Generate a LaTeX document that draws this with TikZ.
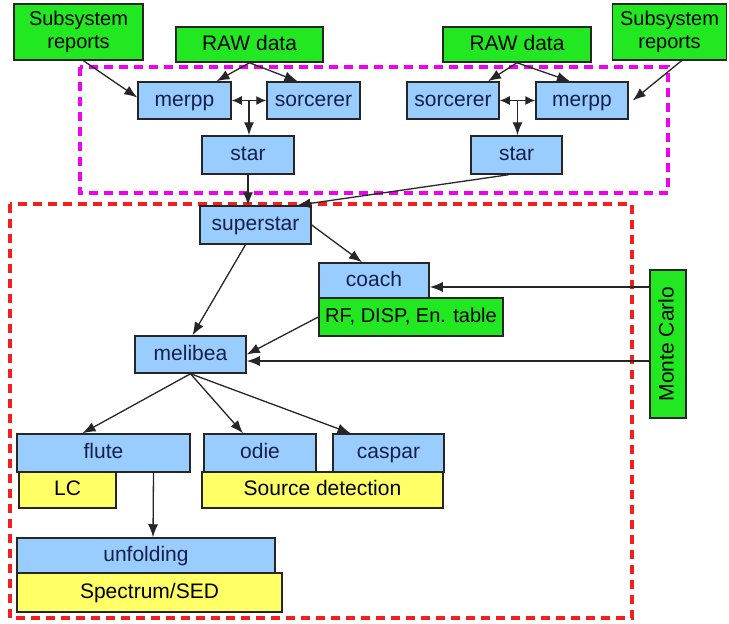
\documentclass[tikz,border=0pt]{standalone}
\usepackage{fontspec}
\setmainfont{Liberation Sans}
\usepackage{tikz}
\usetikzlibrary{
  arrows.meta,
  calc,
  positioning,
}
\definecolor{procblue}{RGB}{153, 204, 255}
\definecolor{inputgreen}{RGB}{34, 232, 34}
\definecolor{resultyellow}{RGB}{255, 255, 102}
\definecolor{navytext}{RGB}{22, 32, 72}
\definecolor{chainmagenta}{RGB}{240, 0, 240}
\definecolor{analysisred}{RGB}{245, 30, 30}
\tikzstyle{box} = [
  draw=black!85,
  line width=1.5pt,
  rectangle,
  inner sep=0pt,
  text height=15pt,
  text depth=4pt,
  font=\fontsize{21}{25}\selectfont,
]
\tikzstyle{procbox} = [box, fill=procblue, text=navytext]
\tikzstyle{inbox} = [box, fill=inputgreen, text=black]
\tikzstyle{resbox} = [box, fill=resultyellow, text=black]
\tikzstyle{arrow} = [
  -{Latex[length=13pt,width=10pt]},
  line width=1.3pt,
  black!85,
]
\tikzstyle{dblarrow} = [
  {Latex[length=10pt,width=9pt]}-{Latex[length=10pt,width=9pt]},
  line width=1.3pt,
  black!85,
]
\tikzstyle{region} = [dash pattern=on 9pt off 6pt, line width=3.5pt]

\begin{document}
\begin{tikzpicture}[x=1pt, y=-1pt]

        \useasboundingbox (0,0) rectangle (729,624);

        % Regions
        \draw [region, chainmagenta] (80,67) rectangle (668,193);
        \draw [region, analysisred] (10,204) rectangle (632,618);

        % Inputs
        \node [inbox, minimum width=129, minimum height=56, align=center,
               text height={}, text depth={}, font=\fontsize{20}{23}\selectfont]
              (subL) at (78.5,32) {Subsystem\\reports};
        \node [inbox, minimum width=147, minimum height=35] (rawL) at (249.5,44.5) {RAW data};
        \node [inbox, minimum width=148, minimum height=35] (rawR) at (517,44.5) {RAW data};
        \node [inbox, minimum width=114, minimum height=56, align=center,
               text height={}, text depth={}, font=\fontsize{20}{23}\selectfont]
              (subR) at (669.5,32) {Subsystem\\reports};

        % Telescope chains
        \node [procbox, minimum width=93, minimum height=37] (merpL) at (184.5,100.5) {merpp};
        \node [procbox, minimum width=93, minimum height=37] (sorL) at (313.5,100.5) {sorcerer};
        \node [procbox, minimum width=92, minimum height=38] (starL) at (248,155) {star};

        \node [procbox, minimum width=92, minimum height=37] (sorR) at (453,100.5) {sorcerer};
        \node [procbox, minimum width=92, minimum height=37] (merpR) at (582,100.5) {merpp};
        \node [procbox, minimum width=91, minimum height=38] (starR) at (516.5,155) {star};

        % Stereo analysis
        \node [procbox, minimum width=111, minimum height=38] (superstar) at (255.5,225) {superstar};
        \node [procbox, minimum width=110, minimum height=35] (coach) at (374,280.5) {coach};
        \node [inbox, minimum width=184, minimum height=38, font=\fontsize{20}{24}\selectfont]
              (rf) at (411,317) {RF, DISP, En. table};
        \node [procbox, minimum width=111, minimum height=37] (melibea) at (190.5,354.5) {melibea};
        \node [inbox, rotate=90, minimum width=148, minimum height=36] (mc) at (668,344) {Monte Carlo};

        % High level
        \node [procbox, minimum width=173, minimum height=38] (flute) at (103.5,453) {flute};
        \node [resbox, minimum width=97, minimum height=36] (lc) at (67.5,490) {LC};
        \node [procbox, minimum width=112, minimum height=38] (odie) at (260,453) {odie};
        \node [procbox, minimum width=111, minimum height=38] (caspar) at (388.5,453) {caspar};
        \node [resbox, minimum width=241, minimum height=36] (srcdet) at (322.5,490) {Source detection};
        \node [procbox, minimum width=258, minimum height=35] (unfolding) at (146,555.5) {unfolding};
        \node [resbox, minimum width=265, minimum height=39] (sed) at (149.5,592.5) {Spectrum/SED};

        % Left chain
        \draw [arrow] ($(subL.south)+(5,0)$) -- ($(merpL.west)+(0,-3)$);
        \draw [arrow] (rawL.south) -- ($(merpL.north)+(32,0)$);
        \draw [arrow] (rawL.south) -- ($(sorL.north)+(-16,0)$);
        \coordinate (jL) at ($(merpL.east)!0.5!(sorL.west)$);
        \draw [dblarrow] (merpL.east) -- (sorL.west);
        \draw [arrow] (jL) -- (jL |- starL.north);

        % Right chain
        \draw [arrow] ($(subR.south)+(12,0)$) -- ($(merpR.east)+(4,0)$);
        \draw [arrow] (rawR.south) -- ($(sorR.north)+(35,0)$);
        \draw [arrow] (rawR.south) -- ($(merpR.north)+(-12,0)$);
        \coordinate (jR) at ($(sorR.east)!0.5!(merpR.west)$);
        \draw [dblarrow] (sorR.east) -- (merpR.west);
        \draw [arrow] (jR) -- (jR |- starR.north);

        % Into superstar
        \draw [arrow] (starL.south) -- (starL.south |- superstar.north);
        \draw [arrow] ($(starR.south)+(-8,0)$) -- ($(superstar.north)+(42,0)$);

        \draw [arrow] (superstar.east) -- ($(coach.north)+(-12,0)$);
        \draw [arrow] ($(superstar.south)+(-10,0)$) -- ($(melibea.north)+(2,0)$);
        \draw [arrow] (rf.west) -- (melibea.east);

        % Monte Carlo
        \draw [arrow] ($(mc.north |- coach.east)+(0,6.5)$) -- ($(coach.east)+(0,6.5)$);
        \draw [arrow] ($(mc.north |- melibea.east)+(0,6.5)$) -- ($(melibea.east)+(0,6.5)$);

        % Out of melibea
        \draw [arrow] (melibea.south) -- ($(flute.north)+(-21,0)$);
        \draw [arrow] (melibea.south) -- ($(odie.north)+(-17,0)$);
        \draw [arrow] (melibea.south) -- ($(caspar.north)+(-38,0)$);
        \draw [arrow] ($(flute.south)+(50,0)$) -- ($(unfolding.north)+(7,0)$);
      \end{tikzpicture}
\end{document}
